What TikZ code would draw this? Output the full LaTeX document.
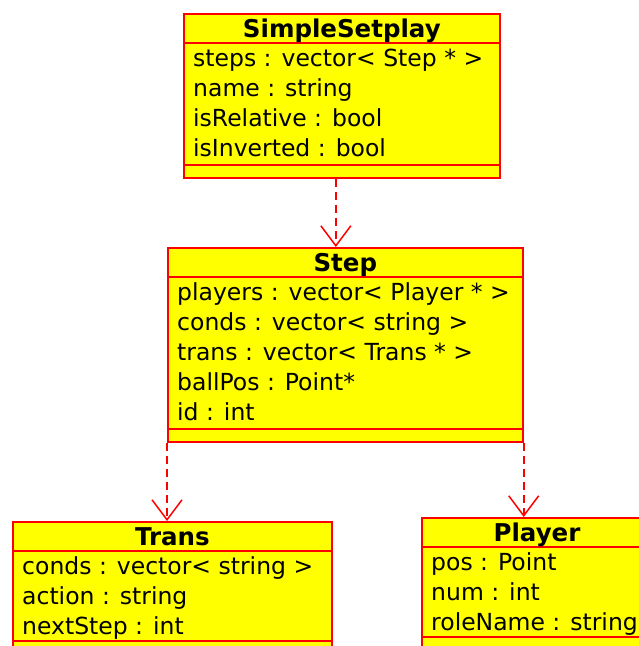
\documentclass[tikz,border=0pt]{standalone}
\usepackage{fontspec}
\setmainfont{DejaVu Sans}
\usepackage{tikz}
\usetikzlibrary{positioning, arrows.meta, calc}
\definecolor{umlred}{HTML}{FF0000}
\definecolor{umlyellow}{HTML}{FFFF00}

\begin{document}
\begin{tikzpicture}[
                x=1pt, y=-1pt,
                classbox/.style={draw=umlred, fill=umlyellow, line width=1.7pt, rectangle, anchor=north west, inner sep=0pt},
                compline/.style={draw=umlred, line width=1.7pt},
                classname/.style={font=\bfseries\fontsize{24.5}{24.5}\selectfont, anchor=base, inner sep=0pt},
                attr/.style={font=\fontsize{23.5}{23.5}\selectfont, anchor=base west, inner sep=0pt},
                dep/.style={draw=umlred, line width=1.7pt, dash pattern=on 8pt off 5pt, -{Straight Barb[length=20pt, width=30pt, line width=1.5pt]}}
            ]
            \useasboundingbox (0,0) rectangle (639,646);

            % Klassen
            \node[classbox, minimum width=316pt, minimum height=164pt] (setplay) at (183,13) {};
            \node[classbox, minimum width=355pt, minimum height=194pt] (step) at (167,247) {};
            \node[classbox, minimum width=319pt, minimum height=134pt] (trans) at (12,521) {};
            \node[classbox, minimum width=226pt, minimum height=134pt] (player) at (421,517) {};

            % Trennlinien
            \draw[compline] ([yshift=-30pt]setplay.north west) -- ([yshift=-30pt]setplay.north east);
            \draw[compline] ([yshift=14pt]setplay.south west) -- ([yshift=14pt]setplay.south east);
            \draw[compline] ([yshift=-30pt]step.north west) -- ([yshift=-30pt]step.north east);
            \draw[compline] ([yshift=14pt]step.south west) -- ([yshift=14pt]step.south east);
            \draw[compline] ([yshift=-30pt]trans.north west) -- ([yshift=-30pt]trans.north east);
            \draw[compline] ([yshift=-120pt]trans.north west) -- ([yshift=-120pt]trans.north east);
            \draw[compline] ([yshift=-30pt]player.north west) -- ([yshift=-30pt]player.north east);
            \draw[compline] ([yshift=-120pt]player.north west) -- ([yshift=-120pt]player.north east);

            % Namen
            \node[classname] (setplay-name) at ([yshift=-24.5pt]setplay.north) {SimpleSetplay};
            \node[classname] (step-name) at ([yshift=-24.5pt]step.north) {Step};
            \node[classname] (trans-name) at ([yshift=-24.5pt]trans.north) {Trans};
            \node[classname] (player-name) at ([yshift=-24.5pt]player.north -| 537,0) {Player};

            % Attribute
            \foreach \txt [count=\i] in {steps : vector< Step * >, name : string, isRelative : bool, isInverted : bool}
                \node[attr] (setplay-a\i) at ([xshift=10pt, yshift=-23.5pt-30pt*\i]setplay.north west) {\txt};
            \foreach \txt [count=\i] in {players : vector< Player * >, conds : vector< string >, trans : vector< Trans * >, ballPos : Point*, id : int}
                \node[attr] (step-a\i) at ([xshift=10pt, yshift=-23.5pt-30pt*\i]step.north west) {\txt};
            \foreach \txt [count=\i] in {conds : vector< string >, action : string, nextStep : int}
                \node[attr] (trans-a\i) at ([xshift=10pt, yshift=-23.5pt-30pt*\i]trans.north west) {\txt};
            \foreach \txt [count=\i] in {pos : Point, num : int, roleName : string}
                \node[attr] (player-a\i) at ([xshift=10pt, yshift=-23.5pt-30pt*\i]player.north west) {\txt};

            % Abhaengigkeiten
            \draw[dep] ([xshift=-6pt]setplay.south) -- ([xshift=-6pt]setplay.south |- step.north);
            \draw[dep] (step.south west) -- (step.south west |- trans.north);
            \draw[dep] (step.south east) -- (step.south east |- player.north);

        \end{tikzpicture}
\end{document}
